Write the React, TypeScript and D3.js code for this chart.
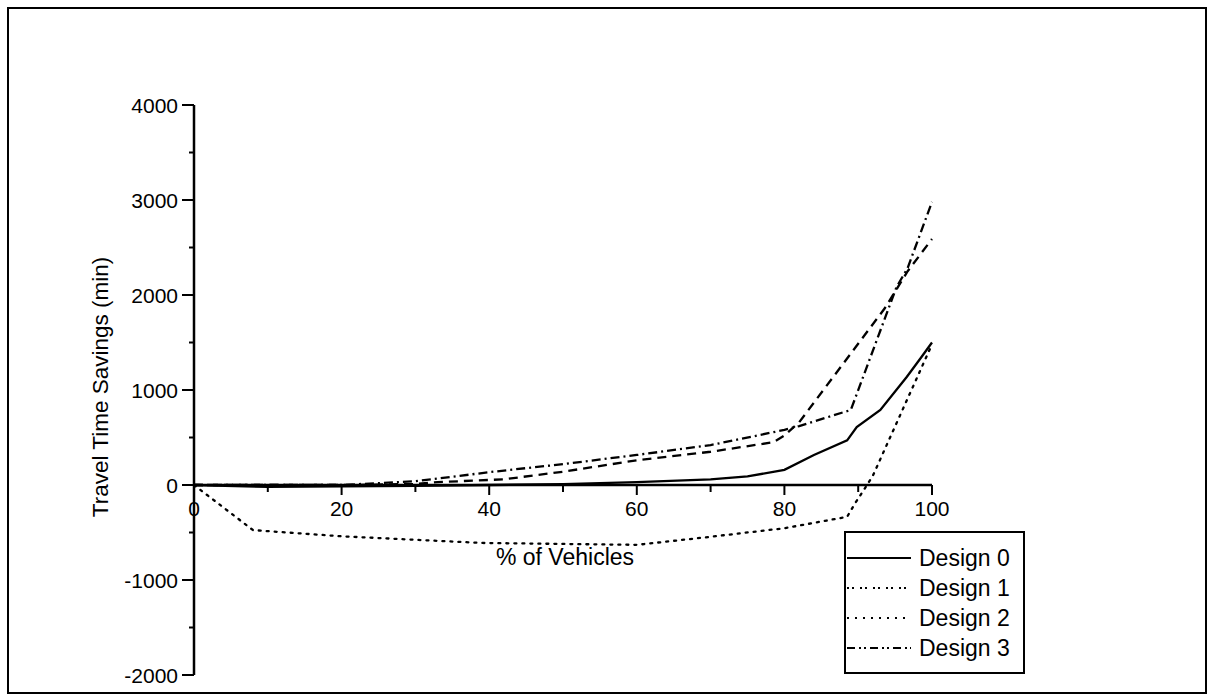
import React from "react";
import * as d3 from "d3";

const xTicks = [0, 20, 40, 60, 80, 100];
const xMinor = [10, 30, 50, 70, 90];
const yTicks = [-2000, -1000, 0, 1000, 2000, 3000, 4000];
const yMinor = [-1500, -500, 500, 1500, 2500, 3500];

const seriesNames = ["Design 0", "Design 1", "Design 2", "Design 3"];

const design0: [number, number][] = [
  [0, 0], [10, -20], [20, -15], [30, -10], [40, 0], [50, 10], [60, 30], [70, 60],
  [75, 90], [80, 160], [84, 316], [88.5, 470], [89.8, 610], [93, 790], [96.6, 1140],
  [98.5, 1340], [100, 1500],
];
const design1: [number, number][] = [
  [0, 0], [20, 0], [30, 10], [33, 30], [42, 60], [50, 140], [60, 260], [70, 350],
  [78.5, 450], [80, 520], [82, 660], [93.6, 1860], [96.7, 2250], [100, 2590],
];
const design2: [number, number][] = [
  [0, 0], [8, -475], [20, -540], [39, -610], [60, -630], [70, -545], [80, -455],
  [88.5, -335], [89.6, -190], [91.2, 0], [92, 100], [100, 1480],
];
const design3: [number, number][] = [
  [0, 0], [20, 0], [30, 40], [33.3, 70], [40, 135], [50, 220], [60, 316], [70, 420],
  [80, 580], [82, 620], [89, 790], [95.2, 2085], [96.7, 2284], [100, 2980],
];

const seriesData = [design0, design1, design2, design3];
const dashes = ["none", "9,6", "2,6", "9,4,2,4"];
const legendDashes = ["none", "2,3,2,6", "2,6", "8,4,2,3,2,4"];

const FONT = "'Liberation Sans', Arial, Helvetica, sans-serif";

export default function App() {
  const x = d3.scaleLinear().domain([0, 100]).range([194, 932]);
  const y = d3.scaleLinear().domain([-2000, 4000]).range([675, 105]);
  const line = d3
    .line<[number, number]>()
    .x((d) => x(d[0]))
    .y((d) => y(d[1]));

  const legendX = 845;
  const legendY = 532;
  const rowY = [558, 588, 618, 648];

  return (
    <svg
      width={1212}
      height={700}
      style={{ position: "absolute", left: 0, top: 0, background: "#fff" }}
      fontFamily={FONT}
    >
      <rect x={0} y={0} width={1212} height={700} fill="#fff" />
      <rect x={8} y={8} width={1198} height={685} fill="none" stroke="#000" strokeWidth={2} />

      {/* series */}
      {seriesData.map((s, i) => (
        <path
          key={i}
          d={line(s) || ""}
          fill="none"
          stroke="#000"
          strokeWidth={2.3}
          strokeDasharray={dashes[i]}
          strokeLinecap={i === 2 ? "round" : "butt"}
        />
      ))}

      {/* y axis */}
      <line x1={x(0)} x2={x(0)} y1={y(-2000)} y2={y(4000)} stroke="#000" strokeWidth={2.5} />
      {yTicks.map((t) => (
        <g key={t}>
          <line x1={x(0) - 12} x2={x(0)} y1={y(t)} y2={y(t)} stroke="#000" strokeWidth={2} />
          <text x={x(0) - 16} y={y(t) + 8} textAnchor="end" fontSize={21}>
            {t}
          </text>
        </g>
      ))}
      {yMinor.map((t) => (
        <line key={t} x1={x(0) - 5} x2={x(0)} y1={y(t)} y2={y(t)} stroke="#000" strokeWidth={2} />
      ))}

      {/* x axis */}
      <line x1={x(0)} x2={x(100)} y1={y(0)} y2={y(0)} stroke="#000" strokeWidth={2.5} />
      {xTicks.map((t) => (
        <g key={t}>
          <line x1={x(t)} x2={x(t)} y1={y(0)} y2={y(0) + 10} stroke="#000" strokeWidth={2} />
          <text x={x(t)} y={y(0) + 31} textAnchor="middle" fontSize={21}>
            {t}
          </text>
        </g>
      ))}
      {xMinor.map((t) => (
        <line key={t} x1={x(t)} x2={x(t)} y1={y(0)} y2={y(0) + 7} stroke="#000" strokeWidth={2} />
      ))}

      {/* axis titles */}
      <text x={565} y={565} textAnchor="middle" fontSize={23}>
        % of Vehicles
      </text>
      <text
        transform={`translate(108, ${387}) rotate(-90)`}
        textAnchor="middle"
        fontSize={22.5}
      >
        Travel Time Savings (min)
      </text>

      {/* legend */}
      <rect x={legendX} y={legendY} width={179} height={141} fill="#fff" stroke="#000" strokeWidth={2} />
      {seriesNames.map((n, i) => (
        <g key={n}>
          <line
            x1={legendX + 2}
            x2={legendX + 66}
            y1={rowY[i]}
            y2={rowY[i]}
            stroke="#000"
            strokeWidth={2}
            strokeDasharray={legendDashes[i]}
          />
          <text x={legendX + 74} y={rowY[i] + 8} fontSize={23}>
            {n}
          </text>
        </g>
      ))}
    </svg>
  );
}
